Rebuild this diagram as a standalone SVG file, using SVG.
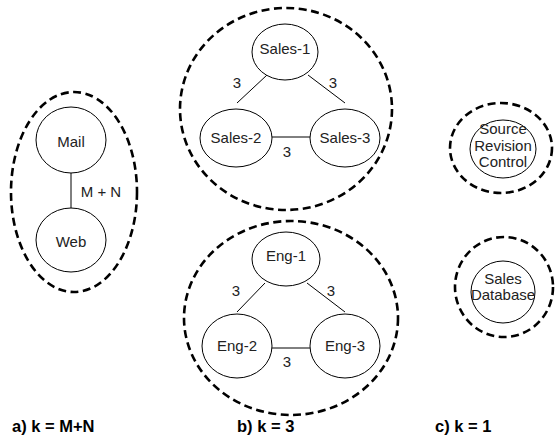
<svg xmlns="http://www.w3.org/2000/svg" width="555" height="447" viewBox="0 0 555 447">
<style>
.grp{fill:none;stroke:#000;stroke-width:2.6;stroke-dasharray:8 4.5}
.node{fill:#fff;stroke:#000;stroke-width:1}
.edge{stroke:#000;stroke-width:1;fill:none}
.lbl{font-family:"Liberation Sans",Arial,sans-serif;font-size:15px;fill:#222;text-anchor:middle}
.cap{font-family:"Liberation Sans",Arial,sans-serif;font-size:16.5px;font-weight:bold;fill:#000}
</style>
<rect width="555" height="447" fill="#fff"/>
<g id="groups">
<ellipse class="grp" cx="74" cy="192" rx="63" ry="100"/>
<ellipse class="grp" cx="286" cy="109" rx="106" ry="101"/>
<ellipse class="grp" cx="291" cy="318" rx="107" ry="97"/>
<ellipse class="grp" cx="501" cy="148" rx="51" ry="45"/>
<ellipse class="grp" cx="504" cy="287" rx="49" ry="50"/>
</g>
<g id="connectors">
<line class="edge" x1="71" y1="173" x2="71" y2="208"/>
<line class="edge" x1="267" y1="75" x2="237" y2="103"/>
<line class="edge" x1="308" y1="75" x2="345" y2="103"/>
<line class="edge" x1="272" y1="137" x2="310" y2="137"/>
<line class="edge" x1="265" y1="283" x2="237" y2="312"/>
<line class="edge" x1="307" y1="283" x2="345" y2="312"/>
<line class="edge" x1="272" y1="348" x2="310" y2="348"/>
<text class="lbl" x="101" y="197">M + N</text>
<text class="lbl" x="237" y="88">3</text>
<text class="lbl" x="333" y="88">3</text>
<text class="lbl" x="287" y="157">3</text>
<text class="lbl" x="236" y="296">3</text>
<text class="lbl" x="331" y="296">3</text>
<text class="lbl" x="287" y="367">3</text>
</g>
<g id="mail"><ellipse class="node" cx="71" cy="140" rx="35" ry="33"/><text class="lbl" x="71" y="147">Mail</text></g>
<g id="web"><ellipse class="node" cx="71" cy="240" rx="35" ry="32"/><text class="lbl" x="71" y="247">Web</text></g>
<g id="sales1"><ellipse class="node" cx="285" cy="52" rx="33" ry="28"/><text class="lbl" x="285" y="54">Sales-1</text></g>
<g id="sales2"><ellipse class="node" cx="236" cy="138" rx="36" ry="29"/><text class="lbl" x="236" y="143">Sales-2</text></g>
<g id="sales3"><ellipse class="node" cx="345" cy="138" rx="35" ry="29"/><text class="lbl" x="345" y="143">Sales-3</text></g>
<g id="eng1"><ellipse class="node" cx="286" cy="259" rx="34" ry="27"/><text class="lbl" x="286" y="261">Eng-1</text></g>
<g id="eng2"><ellipse class="node" cx="237" cy="346" rx="35" ry="32"/><text class="lbl" x="237" y="351">Eng-2</text></g>
<g id="eng3"><ellipse class="node" cx="345" cy="346" rx="35" ry="32"/><text class="lbl" x="345" y="351">Eng-3</text></g>
<g id="src"><ellipse class="node" cx="503" cy="149" rx="33" ry="29"/><text class="lbl" x="503" y="134">Source</text><text class="lbl" x="503" y="151">Revision</text><text class="lbl" x="503" y="167">Control</text></g>
<g id="salesdb"><ellipse class="node" cx="503" cy="292" rx="32" ry="31"/><text class="lbl" x="503" y="284">Sales</text><text class="lbl" x="503" y="300">Database</text></g>
<g id="captions">
<text class="cap" x="12" y="432">a) k = M+N</text>
<text class="cap" x="237" y="432">b) k = 3</text>
<text class="cap" x="435" y="432">c) k = 1</text>
</g>
</svg>
